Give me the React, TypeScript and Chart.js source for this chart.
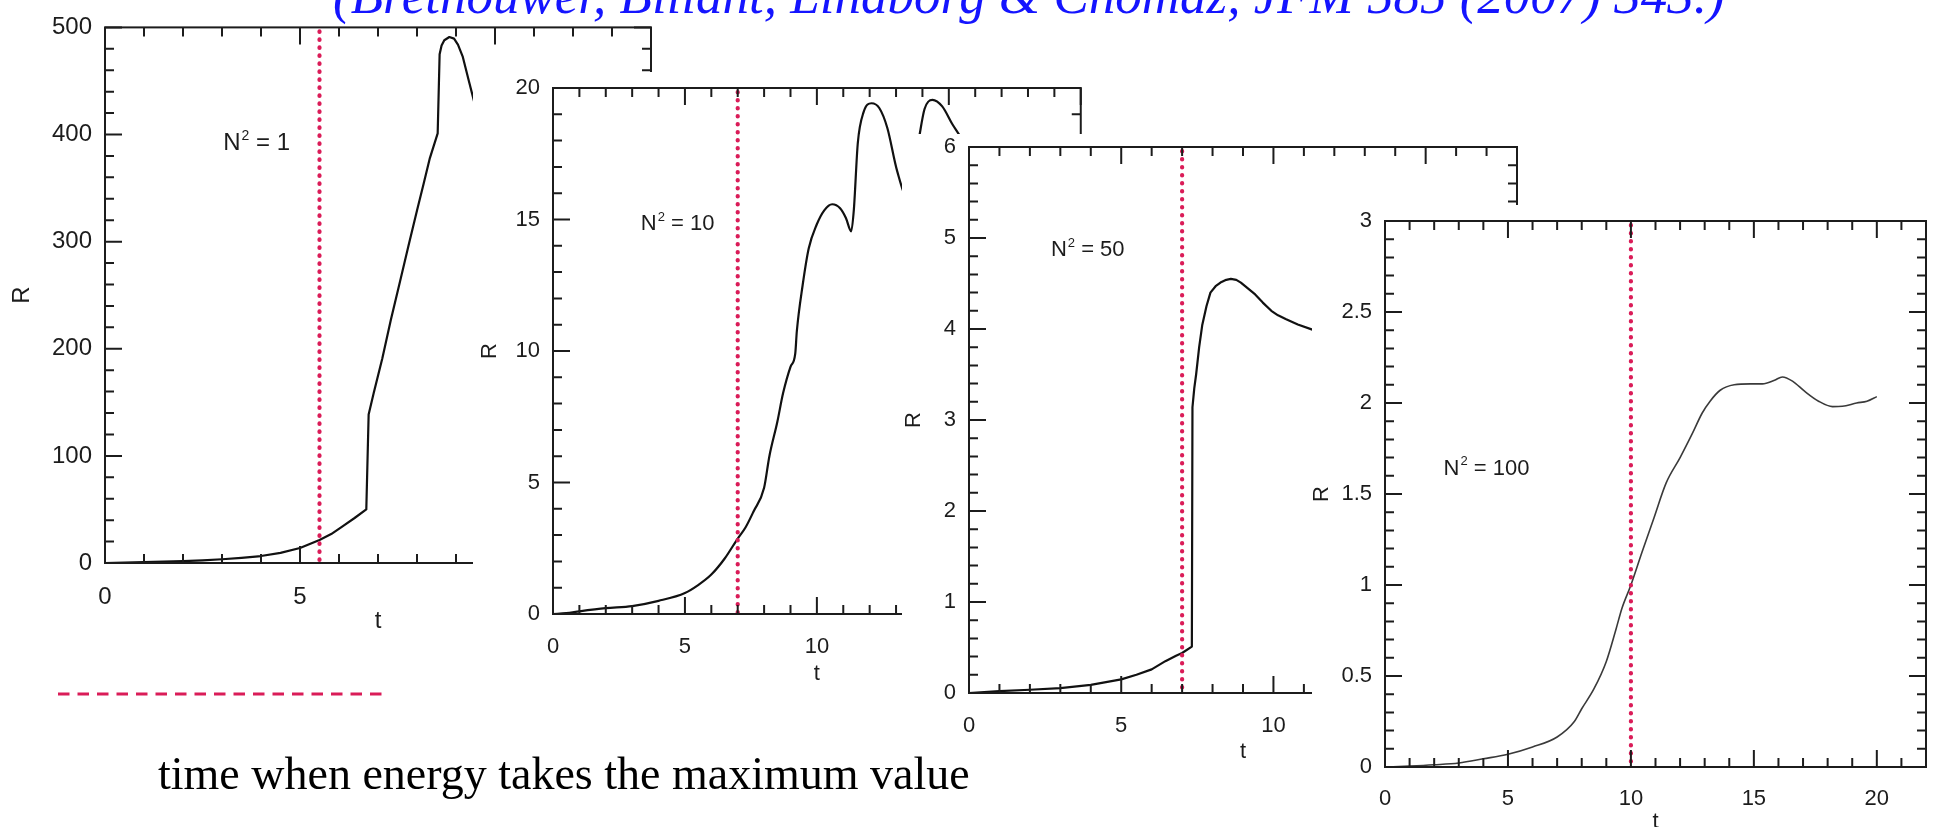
import React, { useEffect, useRef } from "react";
import { Chart, registerables } from "chart.js";

Chart.register(...registerables);

const SANS = '"Liberation Sans", Arial, Helvetica, sans-serif';
const SERIF = '"Liberation Serif", "Times New Roman", Times, serif';
const INK = "#1c1c1c";
const MARK = "rgb(218, 28, 88)";

// ---------- data ----------
// Panel 1: N^2 = 1
const T1 = [0, 0.5, 1, 1.5, 2, 2.5, 3, 3.5, 4, 4.5, 5, 5.5, 5.8, 6.1, 6.4, 6.7, 6.76, 6.89, 7.11, 7.33, 7.56, 7.78, 8.0, 8.17, 8.33, 8.53, 8.58, 8.63, 8.7, 8.83, 8.95, 9.05, 9.17, 9.33, 9.47];
const R1 = [0, 0.3, 0.8, 1.2, 1.8, 2.5, 3.5, 4.8, 6.5, 9.5, 14, 21.5, 27, 34.5, 42, 50, 138.7, 158.6, 191, 227, 262, 296, 329, 354, 378, 401, 475, 483, 488, 491, 489.5, 484, 473, 450, 430];

// Panel 2: N^2 = 10
const T2 = [0, 0.5, 1, 2, 3, 4, 5, 5.5, 6, 6.5, 7, 7.3, 7.6, 8.0, 8.2, 8.5, 8.72, 9.0, 9.18, 9.24, 9.46, 9.69, 9.99, 10.28, 10.58, 10.88, 11.1, 11.3, 11.4, 11.55, 11.77, 12.07, 12.37, 12.67, 13.04, 13.45, 13.86, 14.08, 14.38, 14.75, 15.13, 15.5, 16.0];
const R2 = [0, 0.03, 0.1, 0.22, 0.3, 0.5, 0.8, 1.1, 1.5, 2.1, 2.87, 3.3, 3.9, 4.8, 6.0, 7.3, 8.4, 9.4, 9.9, 10.75, 12.5, 13.9, 14.8, 15.35, 15.58, 15.43, 15.06, 14.55, 15.36, 17.9, 19.08, 19.42, 19.23, 18.48, 16.85, 15.8, 18.04, 19.2, 19.55, 19.3, 18.63, 18.04, 17.0];

// Panel 3: N^2 = 50
const T3 = [0, 1, 2, 3, 4, 5, 5.5, 6.0, 6.45, 6.8, 7.0, 7.32, 7.34, 7.4, 7.46, 7.56, 7.66, 7.8, 7.93, 8.1, 8.26, 8.45, 8.6, 8.78, 8.93, 9.15, 9.4, 9.65, 9.93, 10.15, 10.4, 10.8, 11.3, 11.8];
const R3 = [0, 0.02, 0.036, 0.054, 0.09, 0.15, 0.2, 0.26, 0.35, 0.41, 0.44, 0.51, 3.14, 3.35, 3.5, 3.8, 4.04, 4.25, 4.4, 4.47, 4.51, 4.54, 4.55, 4.54, 4.51, 4.45, 4.38, 4.29, 4.2, 4.15, 4.11, 4.05, 3.99, 3.95];

// Panel 4: N^2 = 100
const T4 = [0, 1, 2, 3, 4, 5, 6, 7, 7.7, 8.0, 8.5, 9.0, 9.4, 9.63, 10.0, 10.45, 10.94, 11.43, 12.0, 12.49, 12.9, 13.22, 13.63, 14.2, 14.86, 15.35, 15.84, 16.16, 16.57, 17.06, 17.63, 18.2, 18.6, 19.18, 19.6, 20.0];
const R4 = [0, 0.005, 0.012, 0.022, 0.045, 0.07, 0.11, 0.165, 0.25, 0.32, 0.43, 0.58, 0.76, 0.87, 1.0, 1.18, 1.37, 1.56, 1.7, 1.83, 1.945, 2.01, 2.07, 2.1, 2.105, 2.105, 2.125, 2.143, 2.12, 2.065, 2.01, 1.98, 1.982, 2.0, 2.01, 2.035];

const N2_VALUES = ["1", "10", "50", "100"];
const MARK_TIMES = [5.5, 7, 7, 10];
const X_MAX = [14, 20, 18, 22];
const Y_MAX = [500, 20, 6, 3];
const X_STEP = [1, 1, 1, 1];
const X_MAJOR = [5, 5, 5, 5];
const Y_STEP = [20, 1, 0.2, 0.1];
const Y_MAJOR = [100, 5, 1, 0.5];
const LABEL_T = [3.03, 3.33, 2.69, 2.38];
const LABEL_R = [394, 14.9, 4.89, 1.65];
const X_TITLE = "t";
const Y_TITLE = "R";
const TITLE = "(Brethouwer, Billant, Lindborg & Chomaz, JFM 585 (2007) 343.)";
const LEGEND_TEXT = "time when energy takes the maximum value";

const SERIES_T = [T1, T2, T3, T4];
const SERIES_R = [R1, R2, R3, R4];

// ---------- layout (page pixels) ----------
type Box = { l: number; t: number; w: number; h: number };
type Rect = { l: number; t: number; r: number; b: number };
type Layout = {
  cover: Box;
  canvas: Box;
  plot: Rect;
  fontSize: number;
  xTickPad: number;
  xTitlePad: number;
  yTitlePad: number;
  lineWidth: number;
  lineColor: string;
  smooth: boolean;
};

const LAYOUTS: Layout[] = [
  { cover: { l: 0, t: 0, w: 700, h: 660 }, canvas: { l: 0, t: 0, w: 700, h: 660 }, plot: { l: 105, t: 19, r: 651, b: 563 }, fontSize: 24, xTickPad: 20, xTitlePad: 24, yTitlePad: 8, lineWidth: 2.2, lineColor: "#111", smooth: false },
  { cover: { l: 473, t: 72, w: 640, h: 628 }, canvas: { l: 473, t: 60, w: 640, h: 640 }, plot: { l: 553, t: 88, r: 1087, b: 614 }, fontSize: 22, xTickPad: 20, xTitlePad: 13, yTitlePad: 4, lineWidth: 2.2, lineColor: "#111", smooth: true },
  { cover: { l: 902, t: 134, w: 638, h: 641 }, canvas: { l: 895, t: 120, w: 645, h: 655 }, plot: { l: 969, t: 147, r: 1517, b: 693 }, fontSize: 22, xTickPad: 20, xTitlePad: 10, yTitlePad: 6, lineWidth: 2.2, lineColor: "#111", smooth: false },
  { cover: { l: 1312, t: 205, w: 625, h: 622 }, canvas: { l: 1300, t: 190, w: 645, h: 655 }, plot: { l: 1385, t: 221, r: 1931, b: 767 }, fontSize: 22, xTickPad: 19, xTitlePad: 10, yTitlePad: 9, lineWidth: 1.6, lineColor: "#3a3a3a", smooth: true },
];

const MAJOR_LEN = 17;
const MINOR_LEN = 9;

function isMajor(v: number, m: number) {
  const q = v / m;
  return Math.abs(q - Math.round(q)) < 1e-6;
}

const panelPlugin = {
  id: "panelDecor",
  afterDatasetsDraw(chart: any, _args: any, opts: any) {
    const { ctx, chartArea: a, scales } = chart;
    const px = scales.x.getPixelForValue(opts.markT);
    ctx.save();
    ctx.beginPath();
    ctx.rect(a.left, a.top, a.right - a.left, a.bottom - a.top);
    ctx.clip();
    ctx.strokeStyle = MARK;
    ctx.lineWidth = 4.2;
    ctx.lineCap = "round";
    ctx.setLineDash([0.5, 7.5]);
    ctx.beginPath();
    ctx.moveTo(px, a.top + 4);
    ctx.lineTo(px, a.bottom);
    ctx.stroke();
    ctx.restore();
  },
  afterDraw(chart: any, _args: any, opts: any) {
    const { ctx, chartArea: a, scales } = chart;
    const xs = scales.x;
    const ys = scales.y;
    const fs = opts.fontSize;
    ctx.save();
    ctx.strokeStyle = INK;
    ctx.lineWidth = 2;
    ctx.setLineDash([]);
    ctx.beginPath();
    xs.ticks.forEach((t: any) => {
      const p = xs.getPixelForValue(t.value);
      const len = isMajor(t.value, opts.xMajor) ? MAJOR_LEN : MINOR_LEN;
      ctx.moveTo(p, a.bottom);
      ctx.lineTo(p, a.bottom - len);
      ctx.moveTo(p, a.top);
      ctx.lineTo(p, a.top + len);
    });
    ys.ticks.forEach((t: any) => {
      const p = ys.getPixelForValue(t.value);
      const len = isMajor(t.value, opts.yMajor) ? MAJOR_LEN : MINOR_LEN;
      ctx.moveTo(a.left, p);
      ctx.lineTo(a.left + len, p);
      ctx.moveTo(a.right, p);
      ctx.lineTo(a.right - len, p);
    });
    ctx.stroke();
    ctx.strokeRect(a.left, a.top, a.right - a.left, a.bottom - a.top);

    // N^2 annotation
    let x = xs.getPixelForValue(opts.labelT);
    const y = ys.getPixelForValue(opts.labelR) + fs * 0.36;
    ctx.fillStyle = INK;
    ctx.textBaseline = "alphabetic";
    ctx.textAlign = "left";
    ctx.font = `${fs}px ${SANS}`;
    ctx.fillText("N", x, y);
    x += ctx.measureText("N").width + 1;
    ctx.font = `${Math.round(fs * 0.6)}px ${SANS}`;
    ctx.fillText("2", x, y - fs * 0.42);
    x += ctx.measureText("2").width;
    ctx.font = `${fs}px ${SANS}`;
    ctx.fillText(" = " + opts.n2, x, y);
    ctx.restore();
  },
};

function Panel({ idx }: { idx: number }) {
  const ref = useRef<HTMLCanvasElement | null>(null);
  const L = LAYOUTS[idx];
  useEffect(() => {
    if (!ref.current) return;
    const tArr = SERIES_T[idx];
    const rArr = SERIES_R[idx];
    const pts = tArr.map((t, i) => ({ x: t, y: rArr[i] }));
    const font = { family: SANS, size: L.fontSize };
    const chart = new Chart(ref.current, {
      type: "line",
      data: {
        datasets: [
          {
            data: pts,
            borderColor: L.lineColor,
            borderWidth: L.lineWidth,
            pointRadius: 0,
            fill: false,
            tension: 0,
            cubicInterpolationMode: L.smooth ? "monotone" : "default",
            borderJoinStyle: "round",
          } as any,
        ],
      },
      options: {
        animation: false,
        responsive: false,
        maintainAspectRatio: false,
        devicePixelRatio: 1,
        events: [],
        layout: {
          padding: {
            left: 0,
            top: L.plot.t - L.canvas.t,
            right: L.canvas.l + L.canvas.w - L.plot.r,
            bottom: 0,
          },
        },
        plugins: {
          legend: { display: false },
          tooltip: { enabled: false },
          title: { display: false },
          panelDecor: {
            markT: MARK_TIMES[idx],
            xMajor: X_MAJOR[idx],
            yMajor: Y_MAJOR[idx],
            labelT: LABEL_T[idx],
            labelR: LABEL_R[idx],
            n2: N2_VALUES[idx],
            fontSize: L.fontSize,
          },
        } as any,
        scales: {
          x: {
            type: "linear",
            min: 0,
            max: X_MAX[idx],
            afterFit: (s: any) => {
              s.height = L.canvas.t + L.canvas.h - L.plot.b;
            },
            grid: { display: false, drawTicks: false },
            border: { display: false },
            ticks: {
              stepSize: X_STEP[idx],
              autoSkip: false,
              maxRotation: 0,
              minRotation: 0,
              padding: L.xTickPad,
              font,
              color: INK,
              callback: (v: any) => (isMajor(Number(v), X_MAJOR[idx]) ? String(v) : ""),
            },
            title: {
              display: true,
              text: X_TITLE,
              font,
              color: INK,
              padding: { top: 0, bottom: L.xTitlePad },
            },
          },
          y: {
            type: "linear",
            min: 0,
            max: Y_MAX[idx],
            afterFit: (s: any) => {
              s.width = L.plot.l - L.canvas.l;
            },
            grid: { display: false, drawTicks: false },
            border: { display: false },
            ticks: {
              stepSize: Y_STEP[idx],
              autoSkip: false,
              padding: 13,
              font,
              color: INK,
              callback: (v: any) => (isMajor(Number(v), Y_MAJOR[idx]) ? String(v) : ""),
            },
            title: {
              display: true,
              text: Y_TITLE,
              font,
              color: INK,
              padding: { top: L.yTitlePad, bottom: 0 },
            },
          },
        },
      } as any,
      plugins: [panelPlugin as any],
    });
    return () => chart.destroy();
  }, [idx]);

  return (
    <div
      style={{
        position: "absolute",
        left: L.cover.l,
        top: L.cover.t,
        width: L.cover.w,
        height: L.cover.h,
        overflow: "hidden",
        background: "#fff",
      }}
    >
      <canvas
        ref={ref}
        width={L.canvas.w}
        height={L.canvas.h}
        style={{
          position: "absolute",
          left: L.canvas.l - L.cover.l,
          top: L.canvas.t - L.cover.t,
          width: L.canvas.w,
          height: L.canvas.h,
        }}
      />
    </div>
  );
}

export default function App() {
  return (
    <div
      style={{
        position: "absolute",
        left: 0,
        top: 0,
        width: 1937,
        height: 827,
        overflow: "hidden",
        background: "#fff",
      }}
    >
      {[0, 1, 2, 3].map((i) => (
        <Panel key={i} idx={i} />
      ))}
      <svg
        width={1937}
        height={827}
        style={{ position: "absolute", left: 0, top: 0, pointerEvents: "none" }}
      >
        <text x={333} y={13} fontFamily={SERIF} fontStyle="italic" fontSize={53} fill="#1414ff">
          {TITLE}
        </text>
        <line x1={58} y1={694} x2={388} y2={694} stroke={MARK} strokeWidth={3} strokeDasharray="11.5 8" />
        <text x={158} y={789} fontFamily={SERIF} fontSize={46} fill="#000">
          {LEGEND_TEXT}
        </text>
      </svg>
    </div>
  );
}
